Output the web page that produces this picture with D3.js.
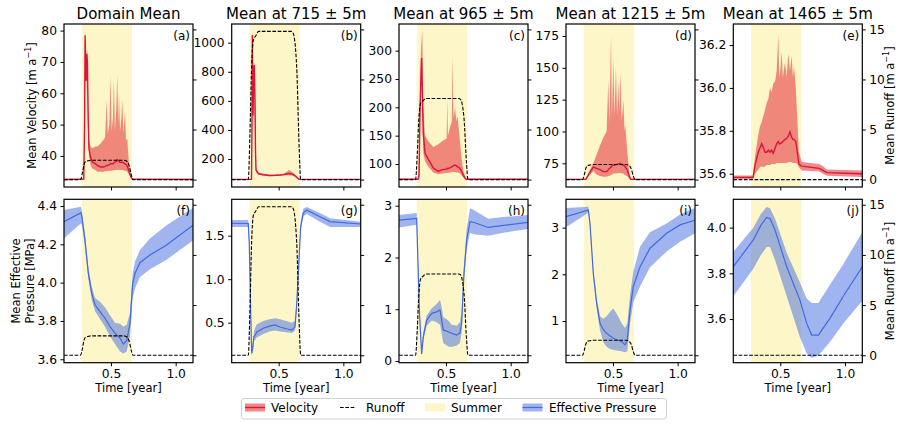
<!DOCTYPE html>
<html><head><meta charset="utf-8">
<script src="https://cdn.jsdelivr.net/npm/d3@7"></script>
<style>body{margin:0;background:#fff;} text{font-family:"DejaVu Sans",sans-serif;fill:#000;}</style>
</head><body><svg id="c" width="898" height="424"></svg>
<script>
// ---------------- data ----------------
const titles = ["Domain Mean", "Mean at 715 \u00b1 5m", "Mean at 965 \u00b1 5m", "Mean at 1215 \u00b1 5m", "Mean at 1465 \u00b1 5m"];
const topLabels = ["(a)", "(b)", "(c)", "(d)", "(e)"];
const botLabels = ["(f)", "(g)", "(h)", "(i)", "(j)"];
const summer = [0.274, 0.663];
const timeDomain = [0.137, 1.134];
const xTicks = [0.5, 1.0];
const runoffTicks = [0, 5, 10, 15];
const runoffDomain = [-0.74, 15.54];

const runoffTime = [0.137, 0.265, 0.278, 0.291, 0.304, 0.325, 0.345, 0.600, 0.613, 0.639, 0.659, 0.670, 1.134];
const runoffA = [0, 0, 0.6, 1.47, 1.81, 1.88, 1.93, 1.93, 1.90, 1.47, 0.39, 0, 0];
const runoffB = [0, 0, 4.6, 11.3, 13.9, 14.4, 14.8, 14.8, 14.6, 11.3, 3.0, 0, 0];
const runoffC = [0, 0, 2.5, 6.2, 7.6, 7.9, 8.1, 8.1, 8.0, 6.2, 1.6, 0, 0];
const runoffD = [0, 0, 0.47, 1.14, 1.41, 1.46, 1.5, 1.5, 1.48, 1.14, 0.3, 0, 0];
const runoffE = [0, 0, 0, 0, 0, 0, 0, 0, 0, 0, 0, 0, 0];

// velocity: [time, mean, low, high]
const velA = [[0.137,32.5,32.3,32.7],[0.290,32.6,32.3,32.9],[0.296,50,45,55],[0.300,78.5,76,79.8],[0.304,70,64,76],[0.309,64,60,68],[0.313,72.6,70,74],[0.318,70,64,73],[0.324,52,48,57],[0.330,42.3,40,45],[0.343,39.5,37,43],[0.356,38.1,36,42.5],[0.38,37.5,35.5,43],[0.395,37,35,43],[0.42,36.5,35,44],[0.44,36.5,35,45],[0.455,36.7,35.1,46],[0.467,37,35.2,58],[0.475,37,35.2,47],[0.487,37.2,35.3,50],[0.498,37.5,35.3,65.8],[0.505,37.5,35.3,48],[0.515,37.5,35.4,52],[0.523,37.8,35.4,64],[0.530,38,35.5,48],[0.541,38.3,35.5,55],[0.549,38.8,35.6,66],[0.556,38.5,35.6,50],[0.562,38.3,35.6,60],[0.570,38,35.5,48],[0.580,38,35.5,52],[0.588,38,35.5,58],[0.596,37.8,35.4,47],[0.608,37.5,35.3,54],[0.616,37.3,35.2,45],[0.626,36.8,35,45.5],[0.640,35,34,37],[0.655,33.2,32.8,33.8],[0.665,32.6,32.3,32.9],[1.134,32.5,32.3,32.7]];
const velB = [[0.137,60,58,62],[0.290,60,58,62],[0.2935,400,300,500],[0.2966,1052,1000,1075],[0.299,700,500,900],[0.302,500,350,700],[0.307,820,600,860],[0.312,846,650,860],[0.317,600,400,700],[0.321,250,180,400],[0.325,125,110,140],[0.343,100,92,108],[0.38,92,86,98],[0.43,87,82,92],[0.48,88,83,93],[0.51,90,85,96],[0.54,93,87,100],[0.56,97,88,110],[0.58,100,88,125],[0.60,98,86,115],[0.62,90,80,98],[0.64,75,70,80],[0.655,62,60,64],[0.665,60,58,62],[1.134,60,58,62]];
const velC = [[0.137,73,72,74],[0.285,73,72,74],[0.292,80,75,110],[0.2993,195,170,230],[0.306,250,220,300],[0.312,287,260,320],[0.317,230,190,336],[0.321,190,150,260],[0.325,154,120,200],[0.338,119,105,150],[0.364,108,95,140],[0.402,93,85,130],[0.441,87,82,135],[0.47,90,83,140],[0.505,91,84,145],[0.510,92,84,215],[0.515,92,84,150],[0.531,93,85,165],[0.545,95,86,175],[0.552,96,86,290],[0.558,97,86,180],[0.570,98,86,200],[0.580,97,85,175],[0.590,95,85,185],[0.600,94,84,160],[0.608,92,83,140],[0.62,88,80,110],[0.634,80,76,88],[0.655,73,72,74],[1.134,73,72,74]];
const velD = [[0.137,62.4,62,62.8],[0.29,62.4,62,62.8],[0.3225,68,66,70],[0.348,72,69,75],[0.374,71,66,82],[0.400,70,65,89],[0.425,68.5,64.5,95],[0.451,68.5,64.5,100],[0.464,70,65,140],[0.472,71,65,105],[0.485,72,66,175],[0.492,73,66,110],[0.503,73.5,67,157],[0.512,73.5,67,112],[0.523,74,67,150],[0.532,74,67,112],[0.541,74.5,67.5,140],[0.549,74.5,67,115],[0.557,75,67.5,146],[0.568,74,67,108],[0.580,73.5,67,125],[0.590,73,66,100],[0.595,72,65.5,105],[0.610,70,65,85],[0.625,65,63,68],[0.637,62.4,62,62.8],[1.134,62.4,62,62.8]];
const velE = [[0.137,35.583,35.575,35.592],[0.29,35.583,35.575,35.592],[0.305,35.64,35.60,35.68],[0.33,35.70,35.62,35.78],[0.343,35.72,35.63,35.82],[0.356,35.74,35.635,35.84],[0.37,35.72,35.63,35.87],[0.383,35.70,35.635,35.90],[0.395,35.70,35.64,35.93],[0.408,35.71,35.64,35.95],[0.4206,35.70,35.64,36.0],[0.433,35.71,35.645,35.98],[0.446,35.695,35.645,36.02],[0.46,35.72,35.645,36.03],[0.4724,35.74,35.65,36.08],[0.485,35.75,35.65,36.25],[0.492,35.74,35.65,36.05],[0.50,35.74,35.65,36.08],[0.511,35.745,35.65,36.17],[0.52,35.75,35.65,36.05],[0.5366,35.76,35.65,36.12],[0.55,35.765,35.65,36.05],[0.562,35.775,35.655,36.16],[0.575,35.795,35.655,36.08],[0.588,35.77,35.655,36.15],[0.597,35.76,35.65,36.05],[0.606,35.76,35.65,36.10],[0.62,35.75,35.65,36.0],[0.632,35.70,35.645,35.85],[0.644,35.645,35.63,35.70],[0.666,35.635,35.615,35.655],[0.80,35.625,35.61,35.645],[0.83,35.615,35.60,35.635],[0.86,35.605,35.59,35.62],[1.134,35.60,35.585,35.615]];

// effective pressure: [time, mean, low, high]
const epF = [[0.137,4.318,4.232,4.379],[0.2684,4.365,4.31,4.396],[0.276,4.34,4.30,4.37],[0.299,4.223,4.19,4.25],[0.325,4.049,4.02,4.08],[0.351,3.945,3.91,3.98],[0.377,3.884,3.85,3.92],[0.415,3.849,3.81,3.90],[0.454,3.814,3.77,3.87],[0.4925,3.77,3.72,3.83],[0.531,3.736,3.68,3.79],[0.57,3.71,3.64,3.785],[0.5956,3.68,3.63,3.77],[0.6214,3.697,3.64,3.78],[0.647,3.788,3.72,3.84],[0.668,3.997,3.92,4.05],[0.686,4.049,3.97,4.11],[0.724,4.104,4.03,4.17],[0.8016,4.144,4.07,4.23],[0.93,4.197,4.12,4.30],[1.134,4.30,4.22,4.39]];
const epG = [[0.137,1.643,1.60,1.68],[0.265,1.64,1.60,1.68],[0.273,1.40,1.36,1.44],[0.284,0.60,0.56,0.64],[0.2915,0.148,0.12,0.20],[0.299,0.20,0.17,0.26],[0.309,0.34,0.30,0.40],[0.317,0.35,0.30,0.44],[0.330,0.39,0.33,0.48],[0.381,0.436,0.37,0.52],[0.43,0.46,0.40,0.54],[0.472,0.474,0.41,0.55],[0.51,0.45,0.40,0.54],[0.56,0.43,0.39,0.52],[0.601,0.416,0.38,0.50],[0.626,0.45,0.41,0.52],[0.639,0.70,0.65,0.76],[0.652,1.068,1.02,1.12],[0.670,1.60,1.55,1.66],[0.690,1.76,1.72,1.81],[0.717,1.795,1.75,1.83],[0.819,1.718,1.66,1.76],[0.897,1.661,1.60,1.70],[1.134,1.634,1.60,1.66]];
const epH = [[0.137,2.72,2.58,2.82],[0.2737,2.757,2.63,2.86],[0.28,2.2,2.1,2.3],[0.294,1.0,0.9,1.1],[0.312,0.135,0.1,0.2],[0.325,0.47,0.4,0.55],[0.351,0.79,0.68,0.88],[0.390,0.92,0.78,1.02],[0.4283,0.95,0.75,1.10],[0.454,0.985,0.70,1.18],[0.466,0.80,0.55,1.05],[0.479,0.60,0.35,0.85],[0.518,0.566,0.28,0.78],[0.544,0.535,0.27,0.70],[0.583,0.502,0.30,0.68],[0.608,0.54,0.35,0.75],[0.621,0.728,0.55,0.95],[0.639,1.69,1.55,1.82],[0.660,2.34,2.15,2.55],[0.6857,2.69,2.48,2.95],[0.711,2.68,2.45,2.92],[0.827,2.58,2.42,2.75],[0.943,2.62,2.48,2.78],[1.134,2.68,2.55,2.82]];
const epI = [[0.137,3.236,3.01,3.42],[0.3095,3.38,3.32,3.45],[0.3225,3.09,3.03,3.15],[0.348,2.02,1.95,2.10],[0.374,1.38,1.28,1.48],[0.400,0.95,0.80,1.10],[0.425,0.82,0.55,1.05],[0.451,0.74,0.45,1.10],[0.478,0.68,0.40,1.20],[0.503,0.63,0.38,1.27],[0.53,0.60,0.37,1.15],[0.567,0.56,0.35,0.95],[0.593,0.49,0.33,0.85],[0.611,0.59,0.35,0.95],[0.632,1.24,0.95,1.55],[0.657,1.74,1.40,2.05],[0.709,2.16,1.74,2.59],[0.786,2.56,2.15,2.90],[0.915,2.88,2.49,3.09],[1.018,3.06,2.70,3.28],[1.134,3.16,2.88,3.42]];
const epJ = [[0.137,3.829,3.70,3.895],[0.2916,3.946,3.82,4.00],[0.35,4.01,3.88,4.06],[0.395,4.045,3.915,4.09],[0.4206,4.04,3.915,4.085],[0.459,3.99,3.86,4.04],[0.5497,3.829,3.70,3.89],[0.652,3.683,3.52,3.76],[0.704,3.581,3.45,3.69],[0.743,3.53,3.43,3.67],[0.794,3.53,3.44,3.67],[0.884,3.603,3.50,3.75],[0.987,3.70,3.58,3.84],[1.134,3.829,3.68,3.98]];

const velTicks = [[40,50,60,70,80],[200,400,600,800,1000],[100,150,200,250,300],[75,100,125,150,175],[35.6,35.8,36.0,36.2]];
const velDomains = [[30.1,82.1],[7.6,1128.5],[59.4,347],[56.4,184.4],[35.538,36.298]];
const velFormats = ["d","d","d","d",".1f"];
const epTicks = [[3.6,3.8,4.0,4.2,4.4],[0.5,1.0,1.5],[0,1,2,3],[1,2,3],[3.6,3.8,4.0]];
const epDomains = [[3.582,4.435],[0.04,1.918],[-0.033,3.124],[0.107,3.608],[3.409,4.124]];
const epFormats = [".1f",".1f","d","d",".1f"];

const velSeries = [velA, velB, velC, velD, velE];
const epSeries = [epF, epG, epH, epI, epJ];
const runoffSeries = [runoffA, runoffB, runoffC, runoffD, runoffE];

// ---------------- layout / style ----------------
const lefts = [64, 231.7, 399, 566, 733.3];
const W = 129;
const rows = [{top: 24, bottom: 187}, {top: 199.3, bottom: 362.7}];
const colVel = "#dc143c", colVelBand = "#e8585a";
const colEP = "#4169e1";
const colSummer = "#fdf6c8";

const svg = d3.select("#c");
const defs = svg.append("defs");

function superLabel(sel, pre, sup, post, fs) {
  sel.append("tspan").text(pre);
  sel.append("tspan").attr("dy", -fs * 0.4).attr("font-size", fs * 0.7).text(sup);
  sel.append("tspan").attr("dy", fs * 0.4).text(post);
}

function panel(rowIdx, i) {
  const r = rows[rowIdx];
  const x0 = lefts[i], x1 = x0 + W;
  const x = d3.scaleLinear().domain(timeDomain).range([x0, x1]);
  const isTop = rowIdx === 0;
  const y = d3.scaleLinear().domain(isTop ? velDomains[i] : epDomains[i]).range([r.bottom, r.top]);
  const yR = d3.scaleLinear().domain(runoffDomain).range([r.bottom, r.top]);
  const data = isTop ? velSeries[i] : epSeries[i];
  const runoff = runoffSeries[i];
  const clipId = "clip" + rowIdx + "_" + i;
  defs.append("clipPath").attr("id", clipId).append("rect")
    .attr("x", x0).attr("y", r.top).attr("width", W).attr("height", r.bottom - r.top);
  const g = svg.append("g").attr("clip-path", `url(#${clipId})`);

  g.append("rect").attr("x", x(summer[0])).attr("y", r.top)
    .attr("width", x(summer[1]) - x(summer[0])).attr("height", r.bottom - r.top)
    .attr("fill", colSummer);

  const area = d3.area().x(d => x(d[0])).y0(d => y(d[2])).y1(d => y(d[3]));
  const line = d3.line().x(d => x(d[0])).y(d => y(d[1]));
  if (isTop) {
    g.append("path").datum(data).attr("d", area).attr("fill", colVelBand).attr("fill-opacity", 0.7);
    g.append("path").datum(data).attr("d", line).attr("fill", "none").attr("stroke", colVel).attr("stroke-width", 1.4);
  } else {
    g.append("path").datum(data).attr("d", area).attr("fill", colEP).attr("fill-opacity", 0.5);
    g.append("path").datum(data).attr("d", line).attr("fill", "none").attr("stroke", colEP).attr("stroke-width", 1.2);
  }
  const rl = d3.line().x((d, k) => x(runoffTime[k])).y(d => yR(d)).curve(d3.curveMonotoneX);
  g.append("path").datum(runoff).attr("d", rl).attr("fill", "none").attr("stroke", "#000")
    .attr("stroke-width", 1.1).attr("stroke-dasharray", "3.7,1.6");

  // axes
  const fs = 12.3;
  const yAxis = d3.axisLeft(y).tickValues(isTop ? velTicks[i] : epTicks[i])
    .tickFormat(d3.format(isTop ? velFormats[i] : epFormats[i])).tickSize(3.5).tickPadding(3.5);
  const ga = svg.append("g").attr("transform", `translate(${x0},0)`).call(yAxis);
  const xAxis = d3.axisBottom(x).tickValues(xTicks).tickFormat(isTop ? "" : d3.format(".1f")).tickSize(3.5).tickPadding(3.5);
  const gx = svg.append("g").attr("transform", `translate(0,${r.bottom})`).call(xAxis);
  const rAxis = d3.axisRight(yR).tickValues(runoffTicks).tickFormat(i === 4 ? d3.format("d") : "").tickSize(3.5).tickPadding(3.5);
  const gr = svg.append("g").attr("transform", `translate(${x1},0)`).call(rAxis);
  [ga, gx, gr].forEach(a => {
    a.select(".domain").remove();
    a.selectAll("line").attr("stroke", "#000").attr("stroke-width", 1);
    a.selectAll("text").attr("font-size", fs).attr("font-family", "DejaVu Sans").attr("fill", "#000");
  });

  svg.append("rect").attr("x", x0).attr("y", r.top).attr("width", W).attr("height", r.bottom - r.top)
    .attr("fill", "none").attr("stroke", "#000").attr("stroke-width", 1.2);

  svg.append("text").attr("x", x1 - 3).attr("y", r.top + 16).attr("text-anchor", "end")
    .attr("font-size", 12).text(isTop ? topLabels[i] : botLabels[i]);

  if (isTop) {
    svg.append("text").attr("x", (x0 + x1) / 2).attr("y", 19).attr("text-anchor", "middle")
      .attr("font-size", 15).text(titles[i]);
  } else {
    svg.append("text").attr("x", (x0 + x1) / 2).attr("y", 392).attr("text-anchor", "middle")
      .attr("font-size", 11.5).text("Time [year]");
  }
  if (i === 4) {
    const t = svg.append("text").attr("transform", `translate(894,${(r.top + r.bottom) / 2}) rotate(-90)`)
      .attr("text-anchor", "middle").attr("font-size", 11.5);
    superLabel(t, "Mean Runoff [m a", "\u22121", "]", 11.5);
  }
}

for (let i = 0; i < 5; i++) { panel(0, i); panel(1, i); }

// y labels on the left
const vl = svg.append("text").attr("transform", `translate(36,${(rows[0].top + rows[0].bottom) / 2}) rotate(-90)`)
  .attr("text-anchor", "middle").attr("font-size", 11.5);
superLabel(vl, "Mean Velocity [m a", "\u22121", "]", 11.5);
const el = svg.append("text").attr("transform", `translate(20,${(rows[1].top + rows[1].bottom) / 2}) rotate(-90)`)
  .attr("text-anchor", "middle").attr("font-size", 11.5);
el.append("tspan").attr("x", 0).attr("dy", 0).text("Mean Effective");
el.append("tspan").attr("x", 0).attr("dy", 13.5).text("Pressure [MPa]");

// legend
const lg = svg.append("g");
lg.append("rect").attr("x", 241.5).attr("y", 398.5).attr("width", 425).attr("height", 20.5).attr("rx", 2.5)
  .attr("fill", "#fff").attr("stroke", "#d0d0d0").attr("stroke-width", 1);
const ly = 407.5;
lg.append("rect").attr("x", 245).attr("y", ly - 4).attr("width", 20).attr("height", 8).attr("fill", colVelBand).attr("fill-opacity", 0.7);
lg.append("line").attr("x1", 245).attr("x2", 265).attr("y1", ly).attr("y2", ly).attr("stroke", colVel).attr("stroke-width", 1.4);
lg.append("text").attr("x", 271).attr("y", ly + 4).attr("font-size", 12).text("Velocity");
lg.append("line").attr("x1", 340).attr("x2", 356).attr("y1", ly).attr("y2", ly).attr("stroke", "#000").attr("stroke-width", 1.1).attr("stroke-dasharray", "3.7,1.6");
lg.append("text").attr("x", 366).attr("y", ly + 4).attr("font-size", 12).text("Runoff");
lg.append("rect").attr("x", 425).attr("y", ly - 4).attr("width", 20).attr("height", 8).attr("fill", colSummer);
lg.append("text").attr("x", 451).attr("y", ly + 4).attr("font-size", 12).text("Summer");
lg.append("rect").attr("x", 522.5).attr("y", ly - 4).attr("width", 20).attr("height", 8).attr("fill", colEP).attr("fill-opacity", 0.5);
lg.append("line").attr("x1", 522.5).attr("x2", 542.5).attr("y1", ly).attr("y2", ly).attr("stroke", colEP).attr("stroke-width", 1.2);
lg.append("text").attr("x", 549).attr("y", ly + 4).attr("font-size", 12).text("Effective Pressure");
</script></body></html>
